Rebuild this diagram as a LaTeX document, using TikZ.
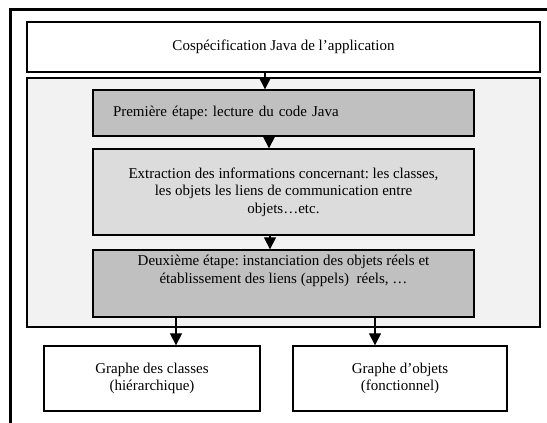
\documentclass[tikz,border=0pt]{standalone}
\usepackage{fontspec}
\setmainfont{Liberation Serif}
\usetikzlibrary{arrows.meta}
\definecolor{panelgray}{HTML}{F2F2F2}
\definecolor{darkbox}{HTML}{C0C0C0}
\definecolor{lightbox}{HTML}{DCDCDC}
\frenchspacing
\begin{document}
\begin{tikzpicture}[x=1pt,y=-1pt,
  txt/.style={font=\fontsize{15}{17.5}\selectfont},
  boxstyle/.style={draw=black,line width=1.3pt,inner sep=0pt,txt},
  arr/.style={line width=1.1pt,-{Triangle[width=12pt,length=12pt]}},
  frame/.style={line width=3pt}]
\useasboundingbox (0,0) rectangle (547,423);
% outer frame
\draw[frame] (10,423) -- (10,9.5) -- (547,9.5);
% panel
\node[boxstyle,fill=panelgray,minimum width=513pt,minimum height=249pt] (panel) at (283.5,202.5) {};
% top box
\node[boxstyle,fill=white,minimum width=513pt,minimum height=50pt] (spec) at (283.5,47) {Cospécification Java de l’application};
% step boxes
\node[boxstyle,fill=darkbox,minimum width=381pt,minimum height=46pt,text width=341pt,align=left,inner xsep=20pt] (etape1) at (283.5,113) {Première étape: lecture du code Java};
\node[boxstyle,fill=lightbox,minimum width=381pt,minimum height=86pt,align=center] (extr) at (283.5,192) {Extraction des informations concernant: les classes,\\les objets les liens de communication entre\\objets…etc.};
\node[boxstyle,fill=darkbox,minimum width=381pt,minimum height=67pt] (etape2) at (283.5,283.5) {};
\node[txt,anchor=north,align=center,inner sep=0pt] (etape2txt) at ([yshift=-6pt]etape2.north) {Deuxième étape: instanciation des objets réels et\\établissement des liens (appels)\ \ réels, …};
% result boxes
\node[boxstyle,fill=white,minimum width=216pt,minimum height=65pt,align=center] (gclasses) at (152,378.5) {Graphe des classes\\(hiérarchique)};
\node[boxstyle,fill=white,minimum width=214pt,minimum height=65pt,align=center] (gobjets) at (400,378.5) {Graphe d’objets\\(fonctionnel)};
% arrow columns
\coordinate (c1) at (265,0);
\coordinate (c2) at (269,0);
\coordinate (c3) at (270,0);
\coordinate (c4) at (176,0);
\coordinate (c5) at (375,0);
\draw[arr] (spec.south -| c1) -- (etape1.north -| c1);
\draw[arr] (etape1.south -| c2) -- (extr.north -| c2);
\draw[arr] (extr.south -| c3) -- (etape2.north -| c3);
\draw[arr] (etape2.south -| c4) -- (gclasses.north -| c4);
\draw[arr] (etape2.south -| c5) -- (gobjets.north -| c5);
\end{tikzpicture}
\end{document}
